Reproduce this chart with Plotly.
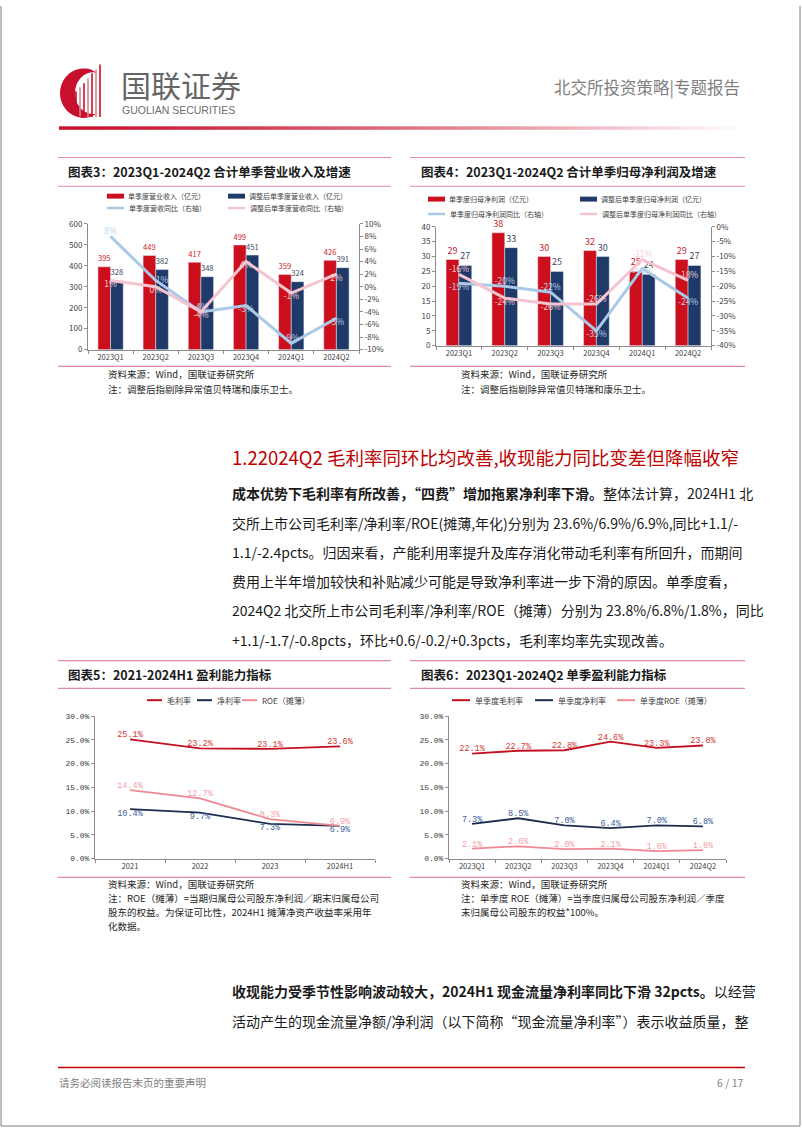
import plotly.graph_objects as go
import numpy as np

W, H = 802, 1133

def px(x):
    return x / W

def py(y):
    return 1 - y / H

# ---------------- data ----------------
quarters = ['2023Q1', '2023Q2', '2023Q3', '2023Q4', '2024Q1', '2024Q2']
rev = [395, 449, 417, 499, 359, 426]
rev_adj = [328, 382, 348, 451, 324, 391]
rev_yoy = [8, 1, -4, -3, -9, -5]
rev_adj_yoy = [1, 0, -4, 4, -1, 2]

np_q = [29, 38, 30, 32, 25, 29]
np_adj = [27, 33, 25, 30, 24, 27]
np_yoy = [-19, -20, -22, -35, -14, -24]
np_adj_yoy = [-16, -24, -26, -26, -11, -18]

years = ['2021', '2022', '2023', '2024H1']
gm_y = [25.1, 23.2, 23.1, 23.6]
nm_y = [10.4, 9.7, 7.3, 6.9]
roe_y = [14.4, 12.7, 8.3, 6.9]

gm_q = [22.1, 22.7, 22.8, 24.6, 23.3, 23.8]
nm_q = [7.3, 8.5, 7.0, 6.4, 7.0, 6.8]
roe_q = [2.1, 2.6, 2.0, 2.1, 1.6, 1.8]

c3_names = ['单季度营业收入（亿元）', '调整后单季度营业收入（亿元）', '单季度营收同比（右轴）', '调整后单季度营收同比（右轴）']
c4_names = ['单季度归母净利润（亿元）', '调整后单季度归母净利润（亿元）', '单季度归母净利润同比（右轴）', '调整后单季度归母净利润同比（右轴）']
c5_names = ['毛利率', '净利率', 'ROE（摊薄）']
c6_names = ['单季度毛利率', '单季度净利率', '单季度ROE（摊薄）']

c3_left_ticks = list(range(0, 601, 100))
c3_right_ticks = list(range(-10, 11, 2))
c4_left_ticks = list(range(0, 41, 5))
c4_right_ticks = list(range(-40, 1, 5))
pct_ticks = [0, 5, 10, 15, 20, 25, 30]

# ---------------- style ----------------
FONT = 'Liberation Sans Narrow, Noto Sans CJK SC'
CJK = 'Noto Sans CJK SC'
MONO = 'Liberation Mono, Noto Sans CJK SC'
RED = '#cc0f1c'
NAVY = '#1f3a68'
LBLUE = '#a9c9e6'
LPINK = '#f5c5cf'
L_RED = '#c40f22'
L_NAVY = '#1e2d4d'
L_PINK = '#ee8993'
GRAY = '#7f7f7f'
BOXLINE = '#e48aa0'
TXT = '#1a1a1a'

fig = go.Figure()

# ---- chart 3 ----
fig.add_trace(go.Bar(x=quarters, y=rev, name=c3_names[0], marker_color=RED, xaxis='x', yaxis='y',
                     text=[str(v) for v in rev], textposition='outside', cliponaxis=False,
                     outsidetextfont=dict(size=9, color='#c8232c', family=FONT)))
fig.add_trace(go.Bar(x=quarters, y=rev_adj, name=c3_names[1], marker_color=NAVY, xaxis='x', yaxis='y',
                     text=[str(v) for v in rev_adj], textposition='outside', cliponaxis=False,
                     outsidetextfont=dict(size=9, color='#3a4660', family=FONT)))
fig.add_trace(go.Scatter(x=quarters, y=rev_yoy, name=c3_names[2], mode='lines+text', xaxis='x', yaxis='y2',
                         line=dict(color=LBLUE, width=3), cliponaxis=False,
                         text=[f'{v}%' for v in rev_yoy],
                         textposition=['top center', 'middle right', 'top center', 'bottom center', 'top center', 'bottom center'],
                         textfont=dict(size=8.5, color='#b9d4ec', family=FONT)))
fig.add_trace(go.Scatter(x=quarters, y=rev_adj_yoy, name=c3_names[3], mode='lines+text', xaxis='x', yaxis='y2',
                         line=dict(color=LPINK, width=3), cliponaxis=False,
                         text=[f'{v}%' for v in rev_adj_yoy],
                         textposition=['bottom center'] * 6,
                         textfont=dict(size=8.5, color='#f7cdd6', family=FONT)))

# ---- chart 4 ----
fig.add_trace(go.Bar(x=quarters, y=np_q, name=c4_names[0], marker_color=RED, xaxis='x2', yaxis='y3',
                     text=[str(v) for v in np_q], textposition='outside', cliponaxis=False,
                     outsidetextfont=dict(size=9, color='#c8232c', family=FONT)))
fig.add_trace(go.Bar(x=quarters, y=np_adj, name=c4_names[1], marker_color=NAVY, xaxis='x2', yaxis='y3',
                     text=[str(v) for v in np_adj], textposition='outside', cliponaxis=False,
                     outsidetextfont=dict(size=9, color='#3a4660', family=FONT)))
fig.add_trace(go.Scatter(x=quarters, y=np_yoy, name=c4_names[2], mode='lines+text', xaxis='x2', yaxis='y4',
                         line=dict(color=LBLUE, width=3), cliponaxis=False,
                         text=[f'{v}%' for v in np_yoy],
                         textposition=['bottom center', 'top center', 'top center', 'bottom center', 'bottom center', 'bottom center'],
                         textfont=dict(size=8.5, color='#b9d4ec', family=FONT)))
fig.add_trace(go.Scatter(x=quarters, y=np_adj_yoy, name=c4_names[3], mode='lines+text', xaxis='x2', yaxis='y4',
                         line=dict(color=LPINK, width=3), cliponaxis=False,
                         text=[f'{v}%' for v in np_adj_yoy],
                         textposition=['top center', 'bottom center', 'bottom center', 'top center', 'top center', 'top center'],
                         textfont=dict(size=8.5, color='#f7cdd6', family=FONT)))

# ---- chart 5 ----
for vals, nm, col, lcol, pos in [(gm_y, c5_names[0], L_RED, '#d23a35', 'top center'),
                                 (nm_y, c5_names[1], L_NAVY, '#41609b', 'bottom center'),
                                 (roe_y, c5_names[2], L_PINK, '#f2a1aa', 'top center')]:
    fig.add_trace(go.Scatter(x=years, y=vals, name=nm, mode='lines+text', xaxis='x3', yaxis='y5',
                             line=dict(color=col, width=1.8), cliponaxis=False,
                             text=[f'{v:.1f}%' for v in vals], textposition=pos,
                             textfont=dict(size=8.5, color=lcol, family=MONO)))

# ---- chart 6 ----
for vals, nm, col, lcol in [(gm_q, c6_names[0], L_RED, '#d23a35'),
                            (nm_q, c6_names[1], L_NAVY, '#41609b'),
                            (roe_q, c6_names[2], L_PINK, '#f2a1aa')]:
    fig.add_trace(go.Scatter(x=quarters, y=vals, name=nm, mode='lines+text', xaxis='x4', yaxis='y6',
                             line=dict(color=col, width=1.8), cliponaxis=False,
                             text=[f'{v:.1f}%' for v in vals], textposition='top center',
                             textfont=dict(size=8.5, color=lcol, family=MONO)))

axis_common = dict(showgrid=False, zeroline=False, showline=True, linecolor='#8c8c8c', linewidth=1,
                   ticks='outside', ticklen=3, tickcolor='#8c8c8c',
                   tickfont=dict(size=8, color='#404040', family=FONT))

def cat_axis(domain, anchor, n, **kw):
    d = dict(axis_common)
    d.update(domain=domain, anchor=anchor, type='category', range=[-0.5, n - 0.5], tickson='boundaries',
             tickfont=dict(size=7.5, color='#404040', family=FONT))
    d.update(kw)
    return d

def val_axis(domain, anchor, rng, ticks, suffix='', fmt=None, side='left', overlaying=None, font=FONT):
    d = dict(axis_common)
    if fmt:
        tt = [fmt.format(v) for v in ticks]
    else:
        tt = [f'{v}{suffix}' for v in ticks]
    d.update(range=rng, tickvals=ticks, ticktext=tt, side=side, anchor=anchor,
             tickfont=dict(size=8, color='#404040', family=font))
    if overlaying:
        d.update(overlaying=overlaying)
    else:
        d.update(domain=domain)
    return d

fig.update_layout(
    xaxis=cat_axis([px(88), px(359)], 'y', 6),
    yaxis=val_axis([py(347), py(220)], 'x', [0, 600], c3_left_ticks),
    yaxis2=val_axis(None, 'x', [-10, 10], c3_right_ticks, suffix='%', side='right', overlaying='y'),
    xaxis2=cat_axis([px(436), px(711)], 'y3', 6),
    yaxis3=val_axis([py(343), py(223)], 'x2', [0, 40], c4_left_ticks),
    yaxis4=val_axis(None, 'x2', [-40, 0], c4_right_ticks, suffix='%', side='right', overlaying='y3'),
    xaxis3=cat_axis([px(95), px(375)], 'y5', 4),
    yaxis5=val_axis([py(861), py(717)], 'x3', [0, 30], pct_ticks, fmt='{:.1f}%', font=MONO),
    xaxis4=cat_axis([px(449), px(726)], 'y6', 6),
    yaxis6=val_axis([py(861), py(717)], 'x4', [0, 30], pct_ticks, fmt='{:.1f}%', font=MONO),
    barmode='group', bargap=0.44, bargroupgap=0,
    showlegend=False,
    width=W, height=H, autosize=False,
    margin=dict(l=0, r=0, t=0, b=0),
    paper_bgcolor='white', plot_bgcolor='white',
)

shapes = []
anns = []

def hline(x0, x1, y, color, width=1.2):
    shapes.append(dict(type='line', xref='paper', yref='paper', x0=px(x0), x1=px(x1), y0=py(y), y1=py(y),
                       line=dict(color=color, width=width)))

def vline(x, y0, y1, color, width=1):
    shapes.append(dict(type='line', xref='paper', yref='paper', x0=px(x), x1=px(x), y0=py(y0), y1=py(y1),
                       line=dict(color=color, width=width)))

def rect(x0, x1, y0, y1, color):
    shapes.append(dict(type='rect', xref='paper', yref='paper', x0=px(x0), x1=px(x1), y0=py(y1), y1=py(y0),
                       fillcolor=color, line=dict(width=0)))

def text(x, y, t, size, color=TXT, xanchor='left', family=FONT):
    anns.append(dict(x=px(x), y=py(y), xref='paper', yref='paper', text=t, showarrow=False,
                     xanchor=xanchor, yanchor='middle', font=dict(size=size, color=color, family=family)))

# page border
vline(1, 0, 1131, GRAY)
vline(800, 0, 1131, GRAY)
hline(1, 800, 1131, GRAY)

# header logo
cx, cy = 84, 88
t_out = np.radians(np.linspace(75, 285, 40))
t_in = np.radians(np.linspace(285, 75, 40))
pts = [(cx + 24 * np.cos(t), cy - 25 * np.sin(t)) for t in t_out]
pts += [(cx + 9 + 18 * np.cos(t), cy - 21 * np.sin(t)) for t in t_in]
path = 'M ' + ' L '.join(f'{px(a):.5f},{py(b):.5f}' for a, b in pts) + ' Z'
shapes.append(dict(type='path', xref='paper', yref='paper', path=path, fillcolor='#c8102e', line=dict(width=0)))
for i, (bx, top) in enumerate(zip([76, 80, 84, 88, 92, 96, 100], [86, 82, 78, 73, 68, 64, 59])):
    vline(bx, top, 110 + min(i, 2), '#c8102e' if i % 2 == 0 else '#d9868f', 1.6)
text(119, 79, '国联证券', 30, '#666666', family=CJK)
text(120, 105, 'GUOLIAN SECURITIES', 10.5, '#6d6d6d', family='Liberation Sans')
text(742, 82, '北交所投资策略|专题报告', 16.5, '#7f7f7f', xanchor='right', family=CJK)

# gradient line
n = 60
for i in range(n):
    x0 = 59 + (737 - 59) * i / n
    x1 = 59 + (737 - 59) * (i + 1) / n
    a = max(0.0, 1 - (i / n) ** 1.3)
    r = int(200 + (255 - 200) * (1 - a))
    g = int(16 + (255 - 16) * (1 - a))
    b = int(46 + (255 - 46) * (1 - a))
    rect(x0, x1 + 0.5, 121.5, 125, f'rgb({r},{g},{b})')

# chart boxes
for (x0, x1) in [(58, 391), (410, 745)]:
    hline(x0, x1, 153, BOXLINE)
    hline(x0, x1, 182, BOXLINE)
    hline(x0, x1, 364, BOXLINE)
    hline(x0, x1, 661, BOXLINE)
    hline(x0, x1, 689, BOXLINE)
    hline(x0, x1, 880, BOXLINE)

text(66, 167, '<b>图表3：2023Q1-2024Q2 合计单季营业收入及增速</b>', 12.5)
text(419, 167, '<b>图表4：2023Q1-2024Q2 合计单季归母净利润及增速</b>', 12.5)
text(66, 675, '<b>图表5：2021-2024H1 盈利能力指标</b>', 12.5)
text(419, 675, '<b>图表6：2023Q1-2024Q2 单季盈利能力指标</b>', 12.5)

# legends
def leg_bar(x, y, color, name, size=7):
    rect(x, x + 17, y - 2.5, y + 2.5, color)
    text(x + 19, y, name, size, '#404040', family=CJK)

def leg_line(x, y, color, name, size=7, w=2.5, L=17):
    hline(x, x + L, y, color, w)
    text(x + L + 3, y, name, size, '#404040', family=CJK)

leg_bar(107, 192, RED, c3_names[0])
leg_bar(228, 192, NAVY, c3_names[1])
leg_line(107, 204, LBLUE, c3_names[2])
leg_line(228, 204, LPINK, c3_names[3])

leg_bar(428, 195, RED, c4_names[0])
leg_bar(580, 195, NAVY, c4_names[1])
leg_line(428, 210, LBLUE, c4_names[2])
leg_line(580, 210, LPINK, c4_names[3])

leg_line(147, 701, L_RED, c5_names[0], 8, 2, 15)
leg_line(197, 701, L_NAVY, c5_names[1], 8, 2, 15)
leg_line(242, 701, L_PINK, c5_names[2], 8, 2, 15)

leg_line(452, 701, L_RED, c6_names[0], 8, 2, 18)
leg_line(535, 701, L_NAVY, c6_names[1], 8, 2, 18)
leg_line(617, 701, L_PINK, c6_names[2], 8, 2, 18)

# notes
NOTE = '#262626'
text(106, 372, '资料来源：Wind，国联证券研究所', 9.5, NOTE)
text(106, 387, '注：调整后指剔除异常值贝特瑞和康乐卫士。', 9.5, NOTE)
text(459, 372, '资料来源：Wind，国联证券研究所', 9.5, NOTE)
text(459, 387, '注：调整后指剔除异常值贝特瑞和康乐卫士。', 9.5, NOTE)

text(106, 887, '资料来源：Wind，国联证券研究所', 9.5, NOTE)
text(106, 901, '注：ROE（摊薄）=当期归属母公司股东净利润／期末归属母公司', 9.5, NOTE)
text(106, 915, '股东的权益。为保证可比性，2024H1 摊薄净资产收益率采用年', 9.5, NOTE)
text(106, 929, '化数据。', 9.5, NOTE)
text(459, 887, '资料来源：Wind，国联证券研究所', 9.5, NOTE)
text(459, 901, '注：单季度 ROE（摊薄）=当季度归属母公司股东净利润／季度', 9.5, NOTE)
text(459, 915, '末归属母公司股东的权益*100%。', 9.5, NOTE)

# headline
text(230, 455, '1.22024Q2 毛利率同环比均改善,收现能力同比变差但降幅收窄', 18.5, '#c00000')

# paragraph 1
para1 = [
    '<b>成本优势下毛利率有所改善，“四费”增加拖累净利率下滑。</b>整体法计算，2024H1 北',
    '交所上市公司毛利率/净利率/ROE(摊薄,年化)分别为 23.6%/6.9%/6.9%,同比+1.1/-',
    '1.1/-2.4pcts。归因来看，产能利用率提升及库存消化带动毛利率有所回升，而期间',
    '费用上半年增加较快和补贴减少可能是导致净利率进一步下滑的原因。单季度看，',
    '2024Q2 北交所上市公司毛利率/净利率/ROE（摊薄）分别为 23.8%/6.8%/1.8%，同比',
    '+1.1/-1.7/-0.8pcts，环比+0.6/-0.2/+0.3pcts，毛利率均率先实现改善。',
]
for i, line in enumerate(para1):
    text(230, 492 + 29.6 * i, line, 14, TXT)

para2 = [
    '<b>收现能力受季节性影响波动较大，2024H1 现金流量净利率同比下滑 32pcts。</b>以经营',
    '活动产生的现金流量净额/净利润（以下简称“现金流量净利率”）表示收益质量，整',
]
for i, line in enumerate(para2):
    text(230, 995 + 29.6 * i, line, 14, TXT)

# footer
hline(58, 745, 1072, '#c00000', 1.5)
text(57, 1087, '请务必阅读报告末页的重要声明', 10.5, '#808080', family=CJK)
text(745, 1087, '6 / 17', 10.5, '#808080', xanchor='right')

fig.update_layout(shapes=shapes, annotations=anns)
fig.write_html('out.html')
